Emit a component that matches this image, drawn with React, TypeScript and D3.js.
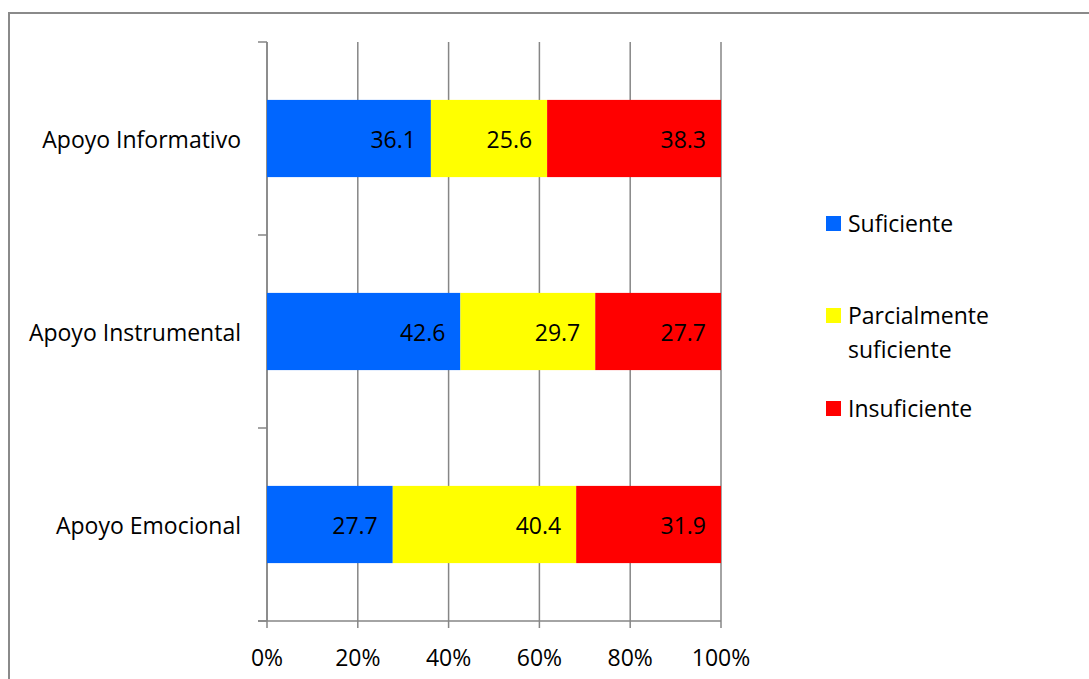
import * as d3 from "d3";
import React from "react";

const categories = ["Apoyo Informativo", "Apoyo Instrumental", "Apoyo Emocional"];
const seriesNames = ["Suficiente", "Parcialmente suficiente", "Insuficiente"];
const suficiente = [36.1, 42.6, 27.7];
const parcial = [25.6, 29.7, 40.4];
const insuficiente = [38.3, 27.7, 31.9];
const tickValues = [0, 0.2, 0.4, 0.6, 0.8, 1];

const colors = ["#0066ff", "#ffff00", "#ff0000"];
const font = "'Open Sans', sans-serif";
const fs = 23;

const App = () => {
	const W = 1089,
		H = 679;
	const plot = { left: 267, right: 721, top: 42, bottom: 621 };

	const x = d3.scaleLinear().domain([0, 1]).range([plot.left, plot.right]);
	const y = d3
		.scaleBand()
		.domain(categories)
		.range([plot.top, plot.bottom])
		.paddingInner(0.6)
		.paddingOuter(0.3);

	const rows = categories.map((c, i) => {
		const vals = [suficiente[i], parcial[i], insuficiente[i]];
		const total = d3.sum(vals);
		let acc = 0;
		return {
			cat: c,
			segs: vals.map((v, j) => {
				const s = { x0: acc / total, x1: (acc + v) / total, v, color: colors[j] };
				acc += v;
				return s;
			}),
		};
	});

	const step = (plot.bottom - plot.top) / categories.length;
	const catTicks = d3.range(categories.length + 1).map((i) => plot.top + i * step);

	const legendY = [223, 315, 408];
	const grey = "#868686";

	return (
		<svg
			width={W}
			height={H}
			style={{ position: "absolute", left: 0, top: 0, background: "#fff" }}
			fontFamily={font}
		>
			<rect x={9} y={13} width={W} height={H} fill="#fff" stroke="#8a8a8a" strokeWidth={2} />

			{/* vertical gridlines */}
			{tickValues.map((t) => (
				<line
					key={t}
					x1={x(t)}
					x2={x(t)}
					y1={plot.top}
					y2={plot.bottom + 7}
					stroke={grey}
					strokeWidth={1.5}
				/>
			))}

			{/* y axis */}
			<line x1={plot.left} x2={plot.left} y1={plot.top} y2={plot.bottom} stroke={grey} strokeWidth={1.5} />
			{catTicks.map((t) => (
				<line key={t} x1={plot.left - 9} x2={plot.left} y1={t} y2={t} stroke={grey} strokeWidth={1.5} />
			))}
			<line x1={plot.left - 9} x2={plot.right} y1={plot.bottom} y2={plot.bottom} stroke={grey} strokeWidth={1.5} />

			{rows.map((r) => (
				<g key={r.cat}>
					{r.segs.map((s, j) => (
						<g key={j}>
							<rect
								x={x(s.x0)}
								y={y(r.cat)!}
								width={x(s.x1) - x(s.x0)}
								height={y.bandwidth()}
								fill={s.color}
							/>
							<text
								x={x(s.x1) - 15}
								y={y(r.cat)! + y.bandwidth() / 2}
								textAnchor="end"
								dominantBaseline="central"
								fontSize={fs}
								fill="#000"
							>
								{s.v.toFixed(1)}
							</text>
						</g>
					))}
					<text
						x={241}
						y={y(r.cat)! + y.bandwidth() / 2}
						textAnchor="end"
						dominantBaseline="central"
						fontSize={fs}
						fill="#000"
					>
						{r.cat}
					</text>
				</g>
			))}

			{tickValues.map((t) => (
				<text
					key={t}
					x={x(t)}
					y={657}
					textAnchor="middle"
					dominantBaseline="central"
					fontSize={fs}
					fill="#000"
				>
					{d3.format(".0%")(t)}
				</text>
			))}

			{/* legend */}
			{seriesNames.map((n, i) => (
				<g key={n}>
					<rect x={826} y={legendY[i] - 7} width={15} height={15} fill={colors[i]} />
					{i === 1 ? (
						<text x={848} y={legendY[i]} dominantBaseline="central" fontSize={fs} fill="#000">
							<tspan x={848}>Parcialmente</tspan>
							<tspan x={848} dy={34}>
								suficiente
							</tspan>
						</text>
					) : (
						<text x={848} y={legendY[i]} dominantBaseline="central" fontSize={fs} fill="#000">
							{n}
						</text>
					)}
				</g>
			))}
		</svg>
	);
};

export default App;
